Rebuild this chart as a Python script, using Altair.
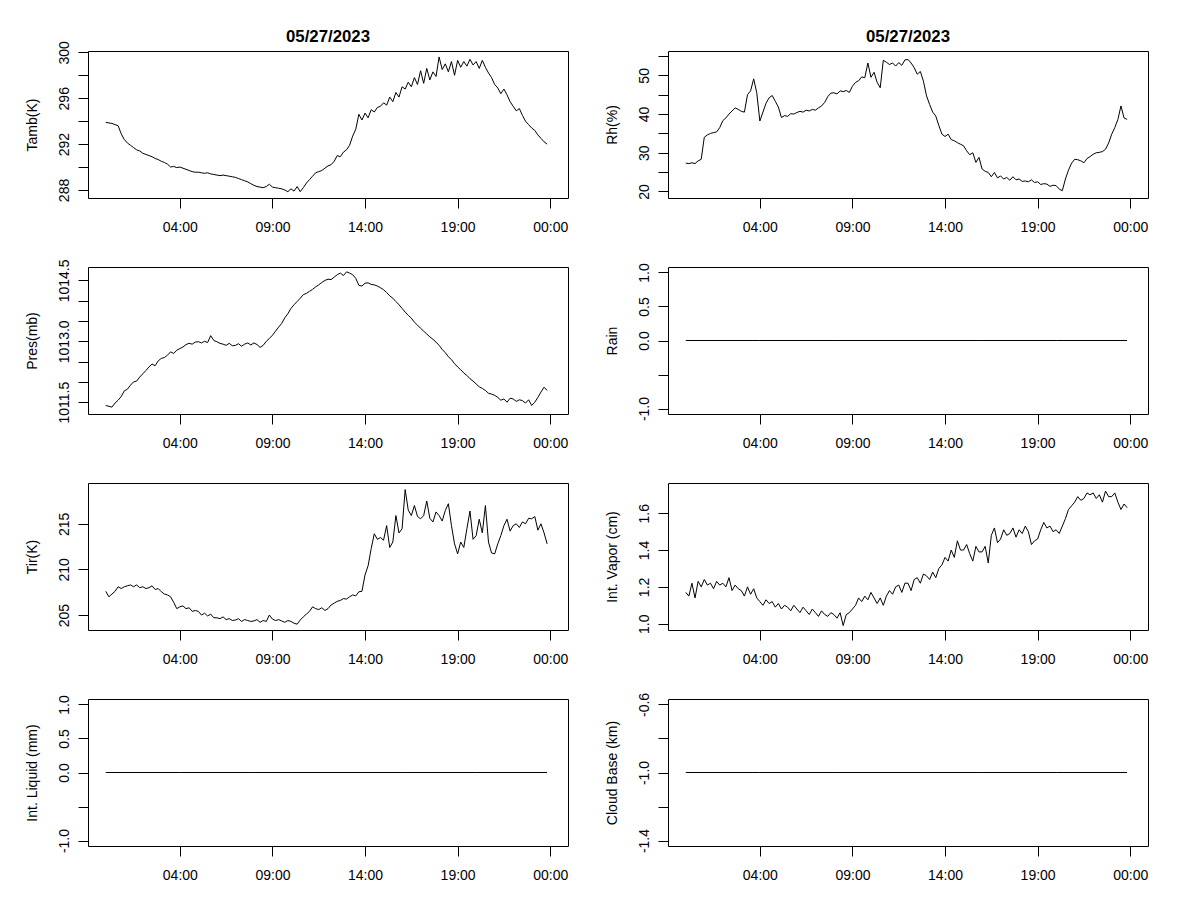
import json
import altair as alt
import pandas as pd

FONT = "Liberation Sans"
DATE = "05/27/2023"

# 10-minute samples, hours since midnight
times = [h + m / 60 for h in range(24) for m in range(0, 60, 10)]

tamb = [
    293.9, 293.85, 293.8, 293.7, 293.6, 292.9,
    292.4, 292.1, 291.9, 291.7, 291.5, 291.4,
    291.2, 291.1, 291.0, 290.9, 290.75, 290.65,
    290.5, 290.4, 290.25, 290.0, 290.05, 289.95,
    290.0, 289.9, 289.8, 289.7, 289.6, 289.55,
    289.55, 289.5, 289.45, 289.5, 289.4, 289.35,
    289.3, 289.25, 289.3, 289.25, 289.2, 289.15,
    289.1, 289.0, 288.9, 288.8, 288.7, 288.55,
    288.4, 288.3, 288.25, 288.2, 288.3, 288.5,
    288.25, 288.2, 288.15, 288.1, 288.0, 287.85,
    288.1, 287.9, 288.3, 287.85, 288.2, 288.6,
    288.9, 289.2, 289.5, 289.6, 289.7, 289.9,
    290.1, 290.2, 290.5, 291.0, 290.9, 291.3,
    291.5, 291.9, 292.7, 293.3, 294.6, 294.1,
    294.7, 294.3, 295.0, 294.8, 295.2, 295.3,
    295.6, 295.4, 296.1, 295.7, 296.5, 296.1,
    297.0, 296.8, 297.4, 297.0, 297.8, 297.2,
    298.4, 297.3, 298.6, 297.6, 298.3, 297.9,
    299.6, 298.5, 299.0, 298.3, 299.2, 298.0,
    299.3, 298.7, 299.2, 298.8, 299.4, 298.9,
    299.2, 298.6, 299.3, 298.7, 298.2, 297.8,
    297.2, 296.9, 296.4, 296.8, 296.3, 295.7,
    295.3, 294.9, 295.1, 294.5, 294.0, 293.7,
    293.4, 293.2, 292.8, 292.5, 292.2, 292.0,
]

rh = [
    27.3, 27.2, 27.4, 27.2, 27.9, 28.3,
    34.0, 34.6, 35.0, 35.2, 35.4, 36.5,
    38.3, 39.0, 40.0, 40.8, 41.6, 41.2,
    40.7, 40.5, 45.0, 46.0, 49.1, 45.5,
    38.2, 40.5, 42.8, 44.2, 44.8, 43.3,
    41.8, 39.1, 39.6, 39.4, 40.1, 40.0,
    40.4, 40.7, 40.5, 41.0, 40.8, 41.2,
    41.0, 41.6, 42.1, 43.0, 44.5, 45.4,
    45.5, 45.2, 46.0, 45.8, 46.1, 45.6,
    47.2, 48.2, 48.6, 49.6, 49.4, 53.2,
    49.5, 50.8, 48.2, 46.8, 53.9, 53.4,
    52.8, 53.2, 52.4, 53.3, 52.6, 54.0,
    54.1, 53.2, 52.0, 50.3, 51.0, 48.5,
    44.7, 42.5, 40.5, 39.5, 37.0, 34.8,
    34.2, 34.8, 33.4, 33.1, 32.6, 32.2,
    31.8, 30.5, 29.5, 30.0, 27.5, 28.8,
    25.8, 25.2, 24.9, 23.8, 24.9, 23.5,
    24.0, 23.2, 23.6, 22.9, 23.8, 23.0,
    23.2, 22.6, 22.7, 22.5, 23.0, 22.3,
    22.5, 21.8, 22.0, 21.9, 21.3, 21.6,
    21.5, 20.6, 20.2, 23.2, 25.5, 27.3,
    28.3, 28.2, 27.9, 27.4, 28.5, 29.0,
    29.6, 30.0, 30.1, 30.3, 30.9, 32.5,
    34.8, 36.5, 38.6, 42.1, 39.0, 38.6,
]

pres = [
    1011.42, 1011.40, 1011.38, 1011.48, 1011.55, 1011.64,
    1011.78, 1011.82, 1011.92, 1012.00, 1012.02, 1012.12,
    1012.20, 1012.28, 1012.37, 1012.44, 1012.40, 1012.52,
    1012.58, 1012.60, 1012.66, 1012.74, 1012.70, 1012.78,
    1012.82, 1012.86, 1012.92, 1012.95, 1012.93, 1012.98,
    1012.99, 1012.96, 1013.00, 1012.97, 1013.14, 1013.02,
    1012.99, 1012.95, 1012.93, 1012.90, 1012.95, 1012.89,
    1012.90, 1012.94, 1012.88, 1012.93, 1012.96, 1012.91,
    1012.96, 1012.92, 1012.85, 1012.90, 1013.00, 1013.07,
    1013.15, 1013.25, 1013.35, 1013.44, 1013.58, 1013.68,
    1013.81, 1013.90, 1013.98, 1014.06, 1014.15, 1014.18,
    1014.23, 1014.28, 1014.34, 1014.39, 1014.45, 1014.50,
    1014.53, 1014.52, 1014.58, 1014.64, 1014.68, 1014.62,
    1014.71, 1014.68, 1014.64, 1014.55, 1014.38, 1014.36,
    1014.43, 1014.44, 1014.40, 1014.39, 1014.36, 1014.32,
    1014.27, 1014.20, 1014.12, 1014.06, 1013.98, 1013.90,
    1013.81, 1013.72, 1013.64, 1013.57, 1013.47, 1013.40,
    1013.32, 1013.25, 1013.18, 1013.11, 1013.05, 1012.98,
    1012.90, 1012.80, 1012.72, 1012.62, 1012.55, 1012.45,
    1012.37, 1012.30, 1012.22, 1012.16, 1012.08, 1012.02,
    1011.95, 1011.88, 1011.84, 1011.79, 1011.72, 1011.70,
    1011.67, 1011.62, 1011.55, 1011.58, 1011.50, 1011.60,
    1011.58, 1011.52, 1011.56, 1011.54, 1011.48, 1011.56,
    1011.42, 1011.50, 1011.62, 1011.75, 1011.87, 1011.79,
]

tir = [
    207.6, 207.0, 207.3, 207.6, 208.1, 207.9,
    208.1, 208.2, 208.3, 208.1, 208.3, 208.0,
    208.1, 207.9, 208.0, 208.2, 207.8, 207.9,
    207.55, 207.3, 207.2, 207.0, 206.4, 205.7,
    205.9, 206.0, 205.7, 205.8, 205.4, 205.5,
    205.4, 205.0, 205.2, 204.9, 205.1, 204.7,
    204.7, 204.6, 204.8, 204.5, 204.6, 204.4,
    204.45, 204.6, 204.3, 204.5, 204.4, 204.3,
    204.35, 204.5, 204.2, 204.4, 204.3, 205.0,
    204.55, 204.4, 204.5, 204.35, 204.2, 204.4,
    204.3, 204.1, 204.0, 204.45, 204.8, 205.1,
    205.4, 205.9, 205.7, 205.6, 205.8, 205.5,
    205.7, 206.1, 206.3, 206.5, 206.6, 206.8,
    206.75, 207.0, 207.2, 207.1, 207.55, 207.6,
    209.4, 210.4, 212.3, 213.9, 213.3, 213.5,
    213.2, 214.8, 212.4, 213.0, 215.9, 214.0,
    214.45, 218.75, 216.5, 215.9, 217.0, 215.8,
    215.55, 215.9, 217.5, 215.6, 215.2, 216.3,
    215.9, 215.3, 216.45, 217.2, 214.8, 212.8,
    211.7, 213.0, 212.4, 214.45, 216.4, 213.3,
    213.7, 215.5, 214.0, 217.0, 213.0, 211.8,
    211.7, 212.8, 213.7, 214.8, 215.5, 214.2,
    214.8, 215.0, 214.6, 215.2, 215.0, 215.6,
    215.55, 215.8, 214.3, 215.0, 214.0, 212.8,
]

vapor = [
    1.17, 1.15, 1.22, 1.14, 1.23, 1.20,
    1.24, 1.21, 1.22, 1.19, 1.23, 1.21,
    1.22, 1.20, 1.25, 1.18, 1.21, 1.19,
    1.18, 1.15, 1.20, 1.16, 1.19, 1.14,
    1.12, 1.10, 1.13, 1.11, 1.12, 1.09,
    1.11, 1.08, 1.10, 1.09, 1.07, 1.10,
    1.08, 1.06, 1.09, 1.07, 1.05, 1.08,
    1.06, 1.04, 1.07, 1.05, 1.04, 1.06,
    1.05, 1.03, 1.06, 0.99, 1.05, 1.06,
    1.08, 1.10, 1.14, 1.12, 1.15, 1.13,
    1.17, 1.14, 1.11, 1.14, 1.10, 1.15,
    1.18, 1.16, 1.20, 1.21, 1.17, 1.22,
    1.22, 1.18, 1.24, 1.25, 1.22, 1.27,
    1.26, 1.24, 1.28, 1.25, 1.30, 1.32,
    1.36, 1.34, 1.40, 1.36, 1.45, 1.40,
    1.40, 1.43, 1.38, 1.34, 1.42, 1.39,
    1.39, 1.42, 1.33, 1.48, 1.52, 1.44,
    1.46, 1.51, 1.48, 1.49, 1.52, 1.47,
    1.51, 1.49, 1.53, 1.50, 1.43, 1.45,
    1.46, 1.51, 1.55, 1.52, 1.53, 1.50,
    1.51, 1.49, 1.53, 1.57, 1.62, 1.64,
    1.66, 1.69, 1.67, 1.68, 1.71, 1.70,
    1.71, 1.68, 1.70, 1.66, 1.72, 1.69,
    1.69, 1.71, 1.66, 1.62, 1.65, 1.63,
]

flat_times = [0.0, 4.0, 8.0, 12.0, 16.0, 20.0, 23.83]
rain = [0.0, 0.0, 0.0, 0.0, 0.0, 0.0, 0.0]
liquid = [0.0, 0.0, 0.0, 0.0, 0.0, 0.0, 0.0]
cloud_base = [-1.0, -1.0, -1.0, -1.0, -1.0, -1.0, -1.0]

x_ticks = [4, 9, 14, 19, 24]
x_domain = [-0.96, 24.96]
X_EXPR = "datum.value == 24 ? '00:00' : ((datum.value < 10 ? '0' : '') + datum.value + ':00')"


def panel(t, v, ytitle, ydomain, yticks, ylabels, fmt, title_offset=None):
    df = pd.DataFrame({"t": t, "v": v})
    lab_expr = ("indexof(%s, datum.value) >= 0 ? replace(datum.label, '\u2212', '-') : ''"
                % json.dumps(ylabels))
    x = alt.X(
        "t:Q",
        scale=alt.Scale(domain=x_domain, nice=False, zero=False),
        axis=alt.Axis(
            values=x_ticks, labelExpr=X_EXPR, title=None, domain=False, grid=False,
            tickSize=10, tickColor="black", tickWidth=1,
            labelPadding=12, labelColor="black", labelFontSize=14, labelFont=FONT,
            labelFlush=False, labelOverlap=False,
        ),
    )
    y = alt.Y(
        "v:Q",
        scale=alt.Scale(domain=ydomain, nice=False, zero=False),
        axis=alt.Axis(
            values=yticks, format=fmt, labelExpr=lab_expr, title=ytitle,
            domain=False, grid=False, tickSize=10, tickColor="black", tickWidth=1,
            labelAngle=270, labelAlign="center", labelBaseline="alphabetic",
            labelPadding=10, labelFontSize=14, labelColor="black", labelFont=FONT,
            labelOverlap=False, labelFlush=False,
            titleFont=FONT, titleFontSize=14, titleFontWeight="normal", titleColor="black",
            titlePadding=22, titleBaseline="alphabetic", minExtent=30, maxExtent=30,
        ),
    )
    ch = (
        alt.Chart(df)
        .mark_line(color="black", strokeWidth=1, clip=True)
        .encode(x=x, y=y)
        .properties(width=480, height=147)
    )
    if title_offset is not None:
        ch = ch.properties(
            title=alt.TitleParams(
                DATE, font=FONT, fontSize=16.8, fontWeight="bold", color="black",
                anchor="middle", frame="group", offset=title_offset, baseline="bottom",
            )
        )
    return ch


p_tamb = panel(times, tamb, "Tamb(K)", [287.3, 300.12],
               [288, 290, 292, 294, 296, 298, 300], [288, 292, 296, 300], "d", title_offset=-22)
p_rh = panel(times, rh, "Rh(%)", [18.3, 56.3],
             [20, 25, 30, 35, 40, 45, 50, 55], [20, 30, 40, 50], "d", title_offset=-12)
p_pres = panel(times, pres, "Pres(mb)", [1011.21, 1014.83],
               [1011.5, 1012.0, 1012.5, 1013.0, 1013.5, 1014.0, 1014.5],
               [1011.5, 1013.0, 1014.5], ".1f")
p_rain = panel(flat_times, rain, "Rain", [-1.08, 1.08],
               [-1.0, -0.5, 0.0, 0.5, 1.0], [-1.0, 0.0, 0.5, 1.0], ".1f")
p_tir = panel(times, tir, "Tir(K)", [203.36, 219.47],
              [205, 210, 215], [205, 210, 215], "d")
p_vap = panel(times, vapor, "Int. Vapor (cm)", [0.966, 1.764],
              [1.0, 1.2, 1.4, 1.6], [1.0, 1.2, 1.4, 1.6], ".1f")
p_liq = panel(flat_times, liquid, "Int. Liquid (mm)", [-1.08, 1.08],
              [-1.0, -0.5, 0.0, 0.5, 1.0], [-1.0, 0.0, 0.5, 1.0], ".1f")
p_cb = panel(flat_times, cloud_base, "Cloud Base (km)", [-1.432, -0.568],
             [-1.4, -1.2, -1.0, -0.8, -0.6], [-1.4, -1.0, -0.6], ".1f")

chart = (
    alt.concat(
        p_tamb, p_rh, p_pres, p_rain, p_tir, p_vap, p_liq, p_cb,
        columns=2, spacing={"row": 69, "column": 100}, bounds="flush",
    )
    .properties(padding={"left": 16, "top": 20, "right": 10, "bottom": 10}, background="white")
    .configure_view(stroke="black", strokeWidth=1)
)

chart.save("out.html", embed_options={"renderer": "svg", "actions": False})
